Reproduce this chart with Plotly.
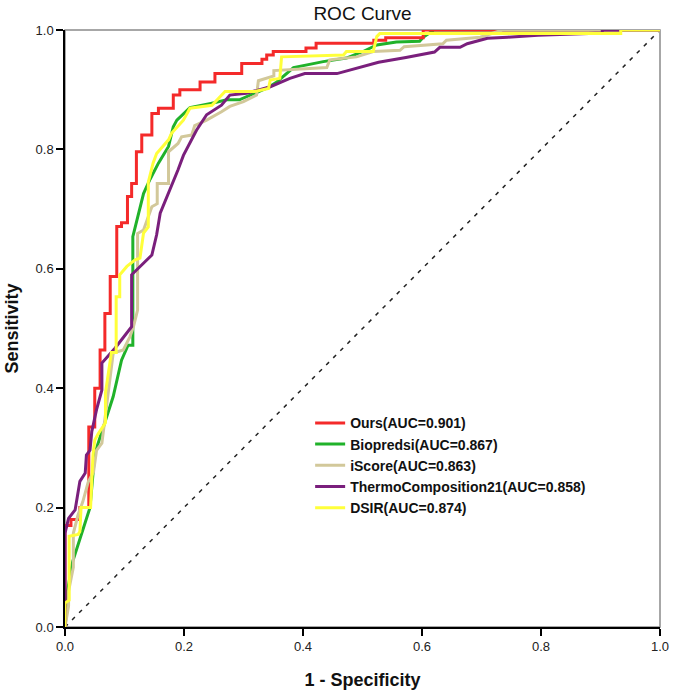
import plotly.graph_objects as go

# ROC vertices (1 - specificity, sensitivity)
ours_fpr = [0, 0, 0.01, 0.01, 0.025, 0.025, 0.04, 0.04, 0.05, 0.05, 0.059, 0.059, 0.067, 0.067,
            0.076, 0.076, 0.087, 0.087, 0.095, 0.095, 0.105, 0.105, 0.112, 0.112, 0.120, 0.120,
            0.129, 0.129, 0.146, 0.146, 0.157, 0.157, 0.182, 0.182, 0.193, 0.193, 0.227, 0.227,
            0.252, 0.252, 0.297, 0.297, 0.331, 0.331, 0.339, 0.339, 0.350, 0.350, 0.405, 0.405,
            0.422, 0.422, 0.519, 0.519, 0.539, 0.539, 0.602, 0.602, 1.0]
ours_tpr = [0, 0.17, 0.17, 0.18, 0.18, 0.20, 0.20, 0.335, 0.335, 0.40, 0.40, 0.464, 0.464, 0.525,
            0.525, 0.587, 0.587, 0.671, 0.671, 0.677, 0.677, 0.721, 0.721, 0.743, 0.743, 0.796,
            0.796, 0.824, 0.824, 0.860, 0.860, 0.869, 0.869, 0.891, 0.891, 0.900, 0.900, 0.913,
            0.913, 0.927, 0.927, 0.944, 0.944, 0.951, 0.951, 0.958, 0.958, 0.964, 0.964, 0.970,
            0.970, 0.978, 0.978, 0.983, 0.983, 0.987, 0.987, 1.0, 1.0]

bio_fpr = [0, 0.004, 0.004, 0.013, 0.042, 0.05, 0.081, 0.095, 0.106, 0.114, 0.114, 0.132, 0.143,
           0.157, 0.174, 0.182, 0.188, 0.21, 0.245, 0.272, 0.293, 0.311, 0.342, 0.356, 0.384,
           0.434, 0.473, 0.501, 0.524, 0.557, 0.596, 0.602, 0.62, 1.0]
bio_tpr = [0, 0.04, 0.06, 0.11, 0.2, 0.29, 0.386, 0.447, 0.472, 0.472, 0.654, 0.726, 0.750,
           0.777, 0.805, 0.838, 0.849, 0.870, 0.877, 0.883, 0.883, 0.891, 0.904, 0.913, 0.937,
           0.947, 0.953, 0.964, 0.975, 0.980, 0.981, 0.988, 1.0, 1.0]

iscore_fpr = [0, 0.006, 0.006, 0.014, 0.014, 0.022, 0.03, 0.039, 0.048, 0.053, 0.062, 0.07, 0.081,
              0.098, 0.109, 0.115, 0.122, 0.122, 0.132, 0.146, 0.155, 0.155, 0.174, 0.174, 0.19,
              0.196, 0.213, 0.218, 0.238, 0.263, 0.277, 0.30, 0.322, 0.325, 0.351, 0.351, 0.44,
              0.445, 0.49, 0.518, 0.563, 0.57, 0.635, 0.641, 0.698, 0.735, 1.0]
iscore_tpr = [0, 0.035, 0.06, 0.10, 0.157, 0.188, 0.21, 0.243, 0.26, 0.296, 0.308, 0.369, 0.459,
              0.464, 0.486, 0.503, 0.531, 0.659, 0.665, 0.704, 0.709, 0.743, 0.743, 0.796, 0.81,
              0.821, 0.824, 0.84, 0.849, 0.863, 0.872, 0.88, 0.891, 0.915, 0.923, 0.932, 0.937,
              0.95, 0.955, 0.964, 0.966, 0.972, 0.977, 0.983, 0.988, 1.0, 1.0]

thermo_fpr = [0, 0, 0, 0.006, 0.017, 0.025, 0.034, 0.036, 0.042, 0.045, 0.053, 0.062, 0.062,
              0.084, 0.112, 0.112, 0.146, 0.154, 0.16, 0.19, 0.199, 0.221, 0.238, 0.263, 0.277,
              0.305, 0.328, 0.345, 0.378, 0.403, 0.457, 0.501, 0.527, 0.573, 0.621, 0.63, 0.664,
              0.676, 0.71, 0.744, 0.795, 0.903, 0.903, 1.0]
thermo_tpr = [0, 0.057, 0.157, 0.182, 0.196, 0.244, 0.258, 0.288, 0.296, 0.327, 0.364, 0.397,
              0.442, 0.467, 0.503, 0.59, 0.623, 0.657, 0.693, 0.766, 0.79, 0.832, 0.858, 0.874,
              0.891, 0.894, 0.9, 0.905, 0.919, 0.927, 0.927, 0.939, 0.946, 0.954, 0.963, 0.971,
              0.971, 0.977, 0.986, 0.988, 0.991, 0.995, 1.0, 1.0]

dsir_fpr = [0, 0, 0.007, 0.007, 0.022, 0.025, 0.027, 0.043, 0.047, 0.05, 0.056, 0.068, 0.068,
            0.078, 0.086, 0.086, 0.092, 0.092, 0.104, 0.118, 0.126, 0.132, 0.14, 0.14, 0.148,
            0.154, 0.174, 0.179, 0.199, 0.205, 0.21, 0.247, 0.269, 0.319, 0.342, 0.345, 0.361,
            0.364, 0.468, 0.473, 0.518, 0.524, 0.529, 0.934, 0.934, 1.0]
dsir_tpr = [0, 0.04, 0.045, 0.152, 0.155, 0.16, 0.2, 0.2, 0.288, 0.313, 0.324, 0.342, 0.392,
            0.46, 0.46, 0.553, 0.553, 0.59, 0.604, 0.615, 0.618, 0.66, 0.67, 0.745, 0.777,
            0.793, 0.816, 0.827, 0.849, 0.86, 0.869, 0.874, 0.897, 0.897, 0.902, 0.916, 0.919,
            0.955, 0.958, 0.964, 0.964, 0.989, 0.994, 0.994, 1.0, 1.0]

names = ["Ours(AUC=0.901)", "Biopredsi(AUC=0.867)", "iScore(AUC=0.863)",
         "ThermoComposition21(AUC=0.858)", "DSIR(AUC=0.874)"]
colors = ["#F42A2A", "#20B22A", "#D2C89A", "#7A1F7C", "#FFFF3A"]
curves = [(ours_fpr, ours_tpr), (bio_fpr, bio_tpr), (iscore_fpr, iscore_tpr),
          (thermo_fpr, thermo_tpr), (dsir_fpr, dsir_tpr)]

fig = go.Figure()

# reference diagonal
fig.add_trace(go.Scatter(x=[0, 1], y=[0, 1], mode="lines", showlegend=False,
                         line=dict(color="#222222", width=1.5, dash="4px,6px"),
                         hoverinfo="skip"))

# draw green first so red stays on top along the upper edge
draw_order = [1, 0, 2, 3, 4]
for i in draw_order:
    fx, ty = curves[i]
    fig.add_trace(go.Scatter(x=fx, y=ty, mode="lines", name=names[i], legendrank=i + 1,
                             line=dict(color=colors[i], width=3), cliponaxis=False))

fig.add_shape(type="rect", xref="x domain", yref="y domain", x0=0, y0=0, x1=1, y1=1,
              line=dict(color="#8a8a8a", width=1.5), layer="below")

fig.update_layout(
    width=675,
    height=695,
    margin=dict(l=65, r=15, t=30, b=68),
    paper_bgcolor="white",
    plot_bgcolor="white",
    font=dict(family="Arial, Liberation Sans, sans-serif", color="#111111"),
    title=dict(text="ROC Curve", x=0.537, xanchor="center", xref="container",
               y=1 - 13 / 695, yanchor="middle", yref="container", automargin=False,
               font=dict(size=19, color="#111111")),
    legend=dict(x=0.412, y=0.368, xanchor="left", yanchor="top",
                bgcolor="rgba(0,0,0,0)", font=dict(size=14, color="#111111",
                                                     weight="bold"),
                traceorder="normal", itemwidth=30),
    xaxis=dict(range=[0, 1], tickvals=[0, 0.2, 0.4, 0.6, 0.8, 1.0], tickformat=".1f",
               showgrid=False, zeroline=False, showline=True, linecolor="black", linewidth=1.5,
               ticks="outside", ticklen=7, tickwidth=1.5, tickcolor="black", automargin=False,
               tickfont=dict(size=13, color="#222222"),
               title=dict(text="1 - Specificity", standoff=20,
                          font=dict(size=18, weight="bold", color="#111111"))),
    yaxis=dict(range=[0, 1], tickvals=[0, 0.2, 0.4, 0.6, 0.8, 1.0], tickformat=".1f",
               showgrid=False, zeroline=False, showline=True, linecolor="black", linewidth=1.5,
               ticks="outside", ticklen=7, tickwidth=1.5, tickcolor="black", automargin=False,
               tickfont=dict(size=13, color="#222222"),
               title=dict(text="Sensitivity", standoff=12,
                          font=dict(size=18, weight="bold", color="#111111"))),
)

# drop the default page margin so the figure sits at the window's corner
fig.write_html("out.html", config={"displayModeBar": False},
               post_script="document.body.style.margin='0';")
